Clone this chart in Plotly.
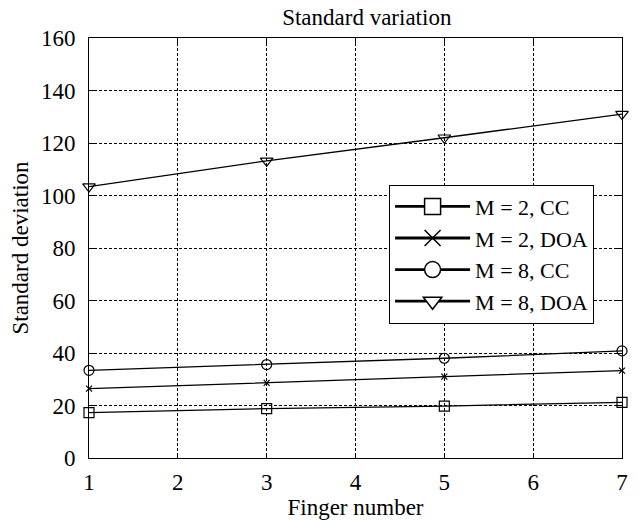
import plotly.graph_objects as go

finger_number = [1, 3, 5, 7]
m2_cc = [17.3, 18.8, 19.8, 21.2]
m2_doa = [26.4, 28.6, 31.0, 33.3]
m8_cc = [33.4, 35.6, 38.0, 40.8]
m8_doa = [103.4, 113.2, 122.0, 131.0]
series_names = ["M = 2, CC", "M = 2, DOA", "M = 8, CC", "M = 8, DOA"]
x_ticks = [1, 2, 3, 4, 5, 6, 7]
y_ticks = [0, 20, 40, 60, 80, 100, 120, 140, 160]

FONT = "Liberation Serif, Times New Roman, serif"
FS = 23

plot_symbols = ["square-open", "x-thin-open", "circle-open", "triangle-down-open"]
plot_sizes = [10, 6, 10, 11]
legend_symbols = ["square", "x-thin-open", "circle", "triangle-down"]
series_values = [m2_cc, m2_doa, m8_cc, m8_doa]

fig = go.Figure()
for vals, sym, size, name in zip(series_values, plot_symbols, plot_sizes, series_names):
    fig.add_trace(go.Scatter(
        x=finger_number, y=vals, mode="lines+markers", name=name,
        showlegend=False,
        line=dict(color="black", width=1.3),
        marker=dict(symbol=sym, size=size, color="black",
                    line=dict(color="black", width=1.2)),
        cliponaxis=False,
    ))
# legend-only entries (larger symbols, thicker lines, as in the reference legend)
for sym, name in zip(legend_symbols, series_names):
    fig.add_trace(go.Scatter(
        x=[None], y=[None], mode="lines+markers", name=name,
        showlegend=True,
        line=dict(color="black", width=2.8),
        marker=dict(symbol=sym, size=16,
                    color="black" if sym.endswith("open") else "white",
                    line=dict(color="black", width=1.5)),
    ))

axis_common = dict(
    showline=True, linecolor="black", linewidth=1, mirror="ticks",
    ticks="inside", ticklen=5, tickcolor="black",
    showgrid=True, gridcolor="black", gridwidth=0.6, griddash="3px,2px",
    zeroline=False,
    tickfont=dict(family=FONT, size=FS, color="black"),
    title_font=dict(family=FONT, size=FS, color="black"),
)

fig.update_xaxes(range=[1, 7], tickvals=x_ticks, title_text="Finger number",
                 title_standoff=3, ticklabelstandoff=3, **axis_common)
fig.update_yaxes(range=[0, 160], tickvals=y_ticks, title_text="Standard deviation",
                 title_standoff=5, ticklabelstandoff=8, **axis_common)

fig.update_layout(
    width=639, height=525,
    margin=dict(l=89, r=11, t=38, b=63),
    paper_bgcolor="white", plot_bgcolor="white",
    title=dict(text="Standard variation", x=0.574, xanchor="center", y=0.968,
               yanchor="middle", font=dict(family=FONT, size=FS, color="black")),
    font=dict(family=FONT, color="black"),
    showlegend=True,
    legend=dict(x=0.563, y=0.651, xanchor="left", yanchor="top",
                bgcolor="white", bordercolor="black", borderwidth=1,
                font=dict(family=FONT, size=22, color="black"),
                itemwidth=75, tracegroupgap=0),
)

fig.write_html("out.html")
